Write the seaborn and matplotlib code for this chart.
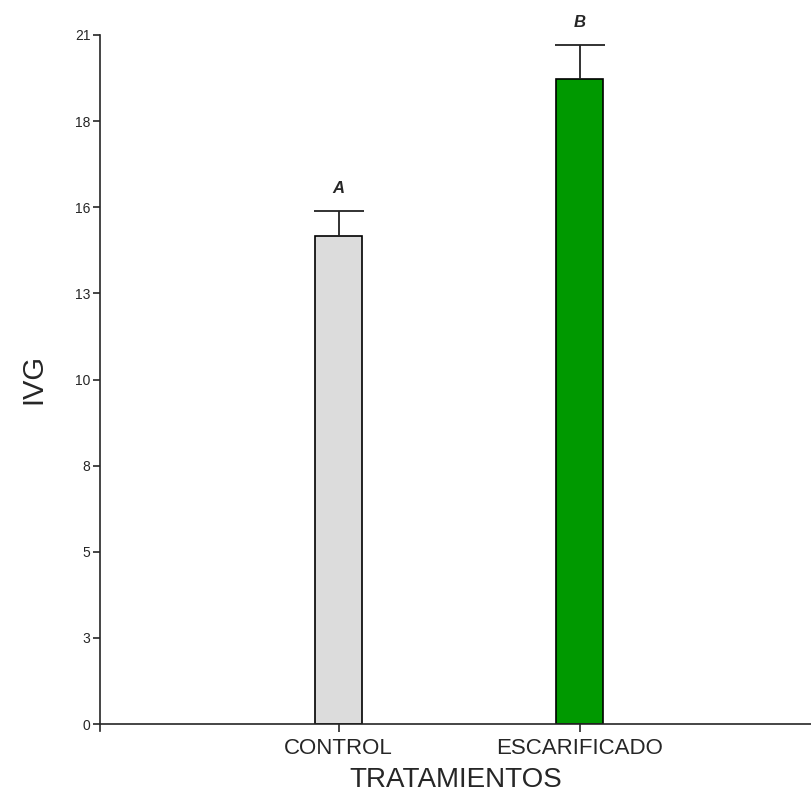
import numpy as np
import pandas as pd
import matplotlib
matplotlib.use("Agg")
import matplotlib.pyplot as plt
from matplotlib.ticker import FormatStrFormatter
import seaborn as sns

# datos
tratamientos = ["CONTROL", "ESCARIFICADO"]
ivg_media = [14.87, 19.65]
ivg_error = [0.76, 1.04]
letras = ["A", "B"]
colores = ["#DCDCDC", "#009900"]

df = pd.DataFrame({"TRATAMIENTOS": tratamientos, "IVG": ivg_media})

sns.set_theme(style="ticks")
plt.rcParams["font.family"] = ["Liberation Sans", "DejaVu Sans"]

fig = plt.figure(figsize=(8.11, 7.99), dpi=100)
ax = fig.add_axes([100 / 811, 75 / 799, 711 / 811, 689 / 799])

sns.barplot(data=df, x="TRATAMIENTOS", y="IVG", hue="TRATAMIENTOS",
            palette=colores, saturation=1, width=0.195, errorbar=None,
            legend=False, edgecolor="black", linewidth=1.2, ax=ax)

# solo la mitad superior del error
pos = np.arange(len(tratamientos))
tope = np.array(ivg_media) + np.array(ivg_error)
ax.vlines(pos, ivg_media, tope, color="#222222", lw=1.3, zorder=1)
ax.hlines(tope, pos - 0.104, pos + 0.104, color="#222222", lw=1.3)

for x, t, l in zip(pos, tope, letras):
    ax.text(x, t + 0.45, l, ha="center", va="bottom",
            fontsize=12, fontweight="bold", fontstyle="italic")

ax.set_xlim(-0.99, 1.96)
ax.set_ylim(0, 21)
ax.set_yticks(np.linspace(0, 21, 9))
ax.yaxis.set_major_formatter(FormatStrFormatter("%.0f"))
ax.tick_params(axis="y", labelsize=10, length=5, width=1.2, pad=2)
ax.tick_params(axis="x", labelsize=16, length=6, width=1.2, pad=4)
ax.set_xlabel("TRATAMIENTOS", fontsize=20, labelpad=6)
ax.set_ylabel("IVG", fontsize=21, labelpad=20)

sns.despine(ax=ax)
ax.spines["left"].set_linewidth(1.2)
ax.spines["bottom"].set_linewidth(1.2)
ax.spines["left"].set_bounds(-0.2, 21)

fig.savefig("out.png", dpi=100)
